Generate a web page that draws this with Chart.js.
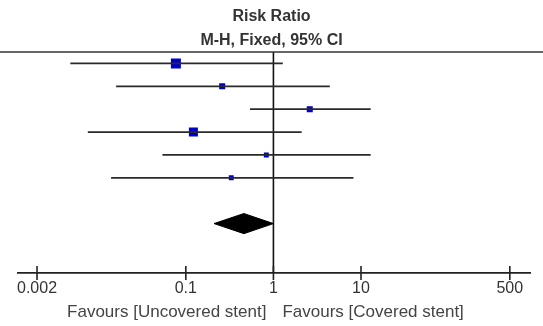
<!DOCTYPE html>
<html><head><meta charset="utf-8">
<script src="https://cdn.jsdelivr.net/npm/chart.js@4/dist/chart.umd.min.js"></script>
<style>html,body{margin:0;padding:0;background:#fff}#wrap{width:543px;height:326px}</style>
</head><body><div id="wrap"><canvas id="c" width="543" height="326"></canvas></div>
<script>
// Study rows (names are cut off at the left edge of the reference)
const studyRows = [0, 1, 2, 3, 4, 5];
const riskRatio = [0.077, 0.26, 2.6, 0.122, 0.83, 0.33];
const ciLower   = [0.0048, 0.016, 0.54, 0.0076, 0.054, 0.014];
const ciUpper   = [1.28, 4.4, 12.9, 2.1, 12.9, 8.2];
const weights   = [33, 12, 12, 27, 8, 8];
// Pooled estimate (M-H, fixed)
const pooledRow = 7;
const pooledRR  = [0.46];
const pooledCI  = [0.21, 1.0];
// Axis
const tickValues = [0.002, 0.1, 1, 10, 500];
const tickLabels = ["0.002", "0.1", "1", "10", "500"];
const titleLines = ["Risk Ratio", "M-H, Fixed, 95% CI"];
const favourLabels = ["Favours [Uncovered stent]", "Favours [Covered stent]"];

const FONT = '"Liberation Sans", Arial, sans-serif';
const datasets = [];
studyRows.forEach((r, i) => {
  datasets.push({
    data: [{x: ciLower[i], y: r}, {x: ciUpper[i], y: r}],
    showLine: true, borderColor: '#2a2a2a', borderWidth: 1.7, pointRadius: 0
  });
});
datasets.push({
  data: studyRows.map((r, i) => ({x: riskRatio[i], y: r})),
  showLine: false, pointStyle: 'rect',
  pointRadius: weights.map(w => 1.23 * Math.sqrt(w)),
  backgroundColor: '#0000cc', borderColor: '#0000cc', borderWidth: 0
});
const dh = 0.44;
datasets.push({
  data: [
    {x: pooledCI[0], y: pooledRow},
    {x: pooledRR[0], y: pooledRow - dh},
    {x: pooledCI[1], y: pooledRow},
    {x: pooledRR[0], y: pooledRow + dh},
    {x: pooledCI[0], y: pooledRow}
  ],
  showLine: true, fill: 'shape', backgroundColor: '#000', borderColor: '#000',
  borderWidth: 1, pointRadius: 0
});

const decor = {
  id: 'decor',
  beforeDatasetsDraw(chart) {
    const {ctx, chartArea: a, scales: {x}} = chart;
    const px = x.getPixelForValue(1);
    ctx.save();
    ctx.strokeStyle = '#111'; ctx.lineWidth = 1.6;
    ctx.beginPath(); ctx.moveTo(px, a.top); ctx.lineTo(px, a.bottom); ctx.stroke();
    ctx.restore();
  },
  afterDraw(chart) {
    const {ctx, chartArea: a, scales: {x}} = chart;
    ctx.save();
    // top rule
    ctx.strokeStyle = '#333'; ctx.lineWidth = 1.6;
    ctx.beginPath(); ctx.moveTo(0, a.top); ctx.lineTo(chart.width, a.top); ctx.stroke();
    // axis tick marks crossing the axis line
    ctx.strokeStyle = '#222'; ctx.lineWidth = 1.6;
    x.ticks.forEach(t => {
      const p = x.getPixelForValue(t.value);
      ctx.beginPath(); ctx.moveTo(p, a.bottom - 7); ctx.lineTo(p, a.bottom + 7); ctx.stroke();
    });
    // title
    ctx.fillStyle = '#333'; ctx.font = 'bold 16px ' + FONT;
    ctx.textAlign = 'center'; ctx.textBaseline = 'middle';
    ctx.fillText(titleLines[0], chart.width / 2, 17);
    ctx.fillText(titleLines[1], chart.width / 2, 41);
    // favours labels
    const p1 = x.getPixelForValue(1);
    ctx.fillStyle = '#444'; ctx.font = '17px ' + FONT;
    ctx.textBaseline = 'alphabetic';
    ctx.textAlign = 'right'; ctx.fillText(favourLabels[0], p1 - 7, 317);
    ctx.textAlign = 'left'; ctx.fillText(favourLabels[1], p1 + 9, 317);
    ctx.restore();
  }
};

new Chart(document.getElementById('c'), {
  type: 'scatter',
  data: {datasets},
  options: {
    responsive: false, animation: false, devicePixelRatio: 1,
    layout: {padding: {left: 17.6, right: 13, top: 52, bottom: 0}},
    plugins: {legend: {display: false}, tooltip: {enabled: false}, title: {display: false}},
    scales: {
      x: {
        type: 'logarithmic', bounds: 'data', min: 0.0012, max: 850,
        afterBuildTicks: s => { s.ticks = tickValues.map(v => ({value: v})); },
        afterFit: s => { s.height = 53; s.paddingLeft = 0; s.paddingRight = 0; },
        grid: {display: false, drawTicks: false},
        border: {display: true, color: '#222', width: 1.8},
        ticks: {
          autoSkip: false, maxRotation: 0, padding: 6,
          color: '#333', font: {family: FONT, size: 16},
          callback: (v, i) => tickLabels[i]
        }
      },
      y: {type: 'linear', reverse: true, min: -0.5, max: 9.16, display: false}
    }
  },
  plugins: [decor]
});
</script></body></html>
